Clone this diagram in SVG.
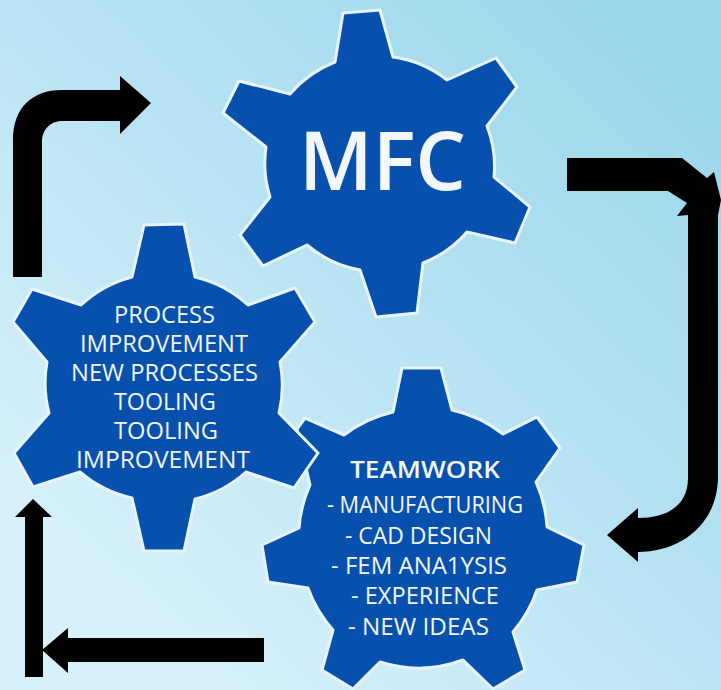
<svg xmlns="http://www.w3.org/2000/svg" width="721" height="690" viewBox="0 0 721 690">
<style>
.gear{fill:#0750ae;stroke:#e6f5fb;stroke-width:3;stroke-linejoin:round}
.arrow{fill:#000}
text{font-family:"Open Sans","Noto Sans","Liberation Sans",sans-serif;fill:#f2f7fc;font-weight:500}
.p{font-size:23px}
.t{font-size:23.5px}
.h{font-size:24px;font-weight:600}
.m{font-size:82px;font-weight:600}
</style>
<defs>
<linearGradient id="bg" gradientUnits="userSpaceOnUse" x1="130" y1="600" x2="640" y2="50">
<stop offset="0" stop-color="#d6f1fb"/>
<stop offset="0.5" stop-color="#b8e3f3"/>
<stop offset="1" stop-color="#9dd7ec"/>
</linearGradient>
</defs>
<rect width="721" height="690" fill="url(#bg)"/>
<g id="connectors">
<path class="arrow" d="M13 277V140C13 108 32 90 62 90H120V76L151 103L120 134V121H62C50 121 42 130 42 142V277Z"/>
<path class="arrow" d="M567 158H682L707 178L714 172L721 200L718 215V478C717 525 680 552 638 552V562L607 535L638 508V518C668 518 688 505 688 478V215L677 216L687 203L668 191H567Z"/>
<path class="arrow" d="M25 677H43V517H52L33 499L15 517H25Z"/>
<path class="arrow" d="M264 638V662H68V673L42 650L68 628V638Z"/>
</g>
<g id="gear-teamwork">
<path class="gear" d="M402 368L441 368L452 410A128 128 0 0 1 503 434L537 417L560 448L536 482A128 128 0 0 1 547 527L584 545L577 582L537 590A128 128 0 0 1 513 632L525 670L493 689L463 660A128 128 0 0 1 380 662L353 689L322 670L333 630A128 128 0 0 1 308 588L268 582L262 545L299 528A128 128 0 0 1 310 485L297 429L305 418L344 435A128 128 0 0 1 393 412Z"/>
<text x="350" y="478" class="h" textLength="150" lengthAdjust="spacingAndGlyphs">TEAMWORK</text>
<text x="327" y="513" class="t" textLength="196" lengthAdjust="spacingAndGlyphs">- MANUFACTURING</text>
<text x="345" y="544" class="t" textLength="147" lengthAdjust="spacingAndGlyphs">- CAD DESIGN</text>
<text x="331" y="574" class="t" textLength="176" lengthAdjust="spacingAndGlyphs">- FEM ANA1YSIS</text>
<text x="351" y="604" class="t" textLength="148" lengthAdjust="spacingAndGlyphs">- EXPERIENCE</text>
<text x="348" y="635" class="t" textLength="141" lengthAdjust="spacingAndGlyphs">- NEW IDEAS</text>
</g>
<g id="gear-process">
<path class="gear" d="M144 225L184 224L195 277A118 118 0 0 1 248 305L295 288L315 322L280 362A118 118 0 0 1 279 413L318 453L294 488L246 472A118 118 0 0 1 195 499L184 551L144 551L132 498A118 118 0 0 1 80 472L33 487L14 453L49 413A118 118 0 0 1 47 362L13 322L32 289L81 305A118 118 0 0 1 132 277Z"/>
<text x="114" y="323" class="p" textLength="101" lengthAdjust="spacingAndGlyphs">PROCESS</text>
<text x="80" y="352" class="p" textLength="168" lengthAdjust="spacingAndGlyphs">IMPROVEMENT</text>
<text x="71" y="381" class="p" textLength="187" lengthAdjust="spacingAndGlyphs">NEW PROCESSES</text>
<text x="114" y="410" class="p" textLength="102" lengthAdjust="spacingAndGlyphs">TOOLING</text>
<text x="114" y="439" class="p" textLength="104" lengthAdjust="spacingAndGlyphs">TOOLING</text>
<text x="76" y="468" class="p" textLength="174" lengthAdjust="spacingAndGlyphs">IMPROVEMENT</text>
</g>
<g id="gear-mfc">
<path class="gear" d="M343 13L380 10L393 57A112 112 0 0 1 447 80L496 58L517 87L487 126A112 112 0 0 1 494 177L530 207L515 243L467 232A112 112 0 0 1 423 263L417 313L376 317L360 270A112 112 0 0 1 307 245L263 266L240 235L270 197A112 112 0 0 1 266 147L223 113L239 81L290 94A112 112 0 0 1 335 62Z"/>
<text x="299" y="190" class="m" textLength="167" lengthAdjust="spacingAndGlyphs">MFC</text>
</g>
</svg>
